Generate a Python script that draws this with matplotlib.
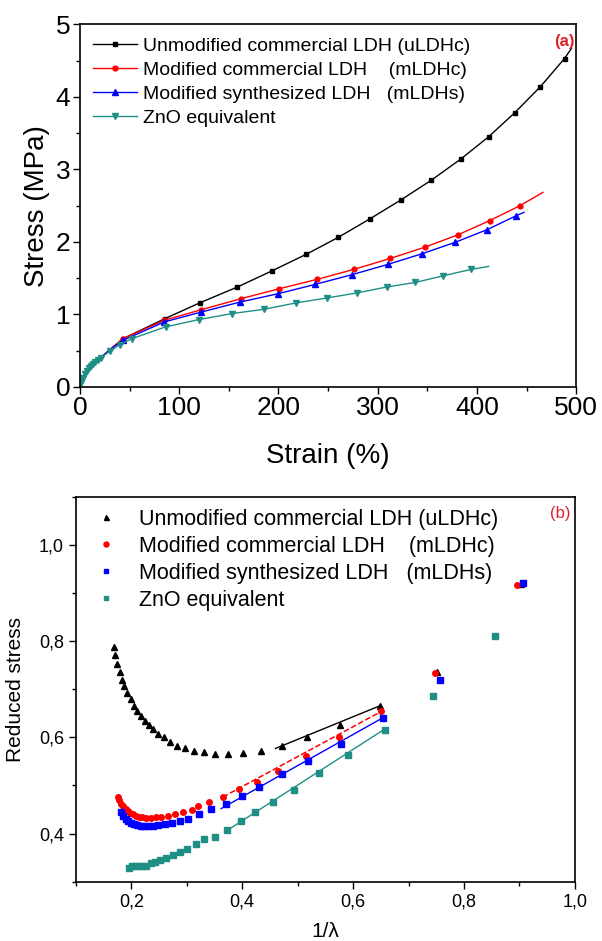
import numpy as np
import matplotlib.pyplot as plt
from matplotlib.ticker import MultipleLocator, FuncFormatter

plt.rcParams['font.family'] = ['Liberation Sans', 'DejaVu Sans']

# ---- panel (a): stress-strain ----
labels = ['Unmodified commercial LDH (uLDHc)',
          'Modified commercial LDH    (mLDHc)',
          'Modified synthesized LDH   (mLDHs)',
          'ZnO equivalent']

strain_u = [0, 1, 2, 4, 6, 8, 10, 13, 16, 20, 25, 30, 36, 43.5, 85.5, 121, 158.5, 193.5, 227.7, 260,
            292.5, 323.6, 354, 383.5, 411.8, 438, 463.9, 488.3, 495.3]
stress_u = [0, 0.05, 0.09, 0.14, 0.18, 0.22, 0.26, 0.30, 0.34, 0.39, 0.45, 0.51, 0.58, 0.665, 0.94, 1.16,
            1.376, 1.60, 1.826, 2.06, 2.32, 2.58, 2.85, 3.14, 3.45, 3.78, 4.14, 4.53, 4.67]

strain_mc = [0, 1, 2, 4, 6, 8, 10, 13, 16, 20, 25, 30, 36, 43.5, 84.7, 122.4, 162.4, 200.9, 238.9,
             275.8, 312.7, 347.7, 380.7, 413, 443.6, 466.6]
stress_mc = [0, 0.05, 0.09, 0.14, 0.18, 0.22, 0.26, 0.30, 0.34, 0.39, 0.45, 0.51, 0.58, 0.665, 0.917,
             1.064, 1.216, 1.353, 1.482, 1.619, 1.771, 1.927, 2.096, 2.294, 2.50, 2.683]

strain_ms = [0, 1, 2, 4, 6, 8, 10, 13, 16, 20, 25, 30, 36, 43.5, 84.7, 122.4, 161.6, 199.7, 237,
             273.9, 310, 344.6, 378.4, 410.6, 439.8, 447.6]
stress_ms = [0, 0.05, 0.09, 0.14, 0.18, 0.22, 0.26, 0.30, 0.34, 0.39, 0.45, 0.51, 0.57, 0.642, 0.894,
             1.032, 1.17, 1.284, 1.413, 1.546, 1.688, 1.835, 1.995, 2.17, 2.362, 2.408]

strain_zn = [0, 1, 2, 3, 5, 7, 9, 11, 13, 15, 18, 21, 30, 40, 52.4, 86.2, 119.7, 152.7, 185.3, 217.2,
             248.6, 278.9, 308.9, 338, 366.3, 393.9, 411.8]
stress_zn = [0, 0.05, 0.09, 0.12, 0.17, 0.22, 0.26, 0.29, 0.32, 0.34, 0.37, 0.40, 0.49, 0.58, 0.665,
             0.826, 0.927, 1.009, 1.069, 1.156, 1.225, 1.294, 1.376, 1.44, 1.532, 1.619, 1.661]

# ---- panel (b): reduced stress (Mooney-Rivlin) ----
inv_u = [0.168, 0.171, 0.175, 0.179, 0.183, 0.187, 0.193, 0.199, 0.204, 0.210, 0.217, 0.224, 0.232,
         0.240, 0.249, 0.259, 0.270, 0.282, 0.297, 0.313, 0.331, 0.351, 0.374, 0.401, 0.433, 0.472,
         0.517, 0.576, 0.649, 0.751, 0.902]
red_u = [0.787, 0.771, 0.752, 0.735, 0.720, 0.707, 0.693, 0.679, 0.666, 0.655, 0.644, 0.634, 0.625,
         0.617, 0.608, 0.600, 0.591, 0.583, 0.577, 0.572, 0.569, 0.566, 0.566, 0.568, 0.571, 0.582,
         0.600, 0.626, 0.665, 0.735, 0.918]

inv_mc = [0.176, 0.178, 0.182, 0.185, 0.190, 0.194, 0.198, 0.203, 0.208, 0.214, 0.220, 0.227, 0.235,
          0.244, 0.254, 0.266, 0.278, 0.293, 0.309, 0.321, 0.341, 0.365, 0.394, 0.426, 0.465, 0.515,
          0.575, 0.651, 0.748, 0.895]
red_mc = [0.476, 0.469, 0.462, 0.457, 0.451, 0.447, 0.443, 0.440, 0.437, 0.435, 0.434, 0.433, 0.433,
          0.434, 0.435, 0.437, 0.441, 0.444, 0.449, 0.457, 0.465, 0.476, 0.492, 0.508, 0.530, 0.562,
          0.601, 0.654, 0.734, 0.917]

inv_ms = [0.182, 0.185, 0.190, 0.194, 0.199, 0.205, 0.210, 0.217, 0.223, 0.231, 0.239, 0.249, 0.261,
          0.273, 0.287, 0.302, 0.322, 0.344, 0.370, 0.399, 0.430, 0.472, 0.518, 0.578, 0.654, 0.757, 0.907]
red_ms = [0.444, 0.436, 0.431, 0.426, 0.422, 0.419, 0.417, 0.415, 0.415, 0.415, 0.415, 0.417, 0.419,
          0.422, 0.426, 0.431, 0.440, 0.451, 0.462, 0.478, 0.497, 0.523, 0.551, 0.587, 0.641, 0.720, 0.920]

inv_zn = [0.196, 0.201, 0.207, 0.213, 0.220, 0.226, 0.235, 0.243, 0.252, 0.263, 0.275, 0.287, 0.301,
          0.316, 0.332, 0.351, 0.372, 0.397, 0.423, 0.456, 0.493, 0.538, 0.591, 0.658, 0.744, 0.856]
red_zn = [0.329, 0.332, 0.333, 0.333, 0.333, 0.333, 0.338, 0.341, 0.345, 0.350, 0.355, 0.362, 0.369,
          0.378, 0.388, 0.392, 0.407, 0.426, 0.445, 0.465, 0.490, 0.525, 0.564, 0.616, 0.686, 0.811]

# linear fits drawn over the large-deformation region
fit_u_x, fit_u_y = [0.46, 0.649], [0.577, 0.666]
fit_mc_x, fit_mc_y = [0.365, 0.651], [0.476, 0.654]
fit_ms_x, fit_ms_y = [0.362, 0.654], [0.452, 0.641]
fit_zn_x, fit_zn_y = [0.372, 0.658], [0.406, 0.618]

teal = '#1f8f86'

fig = plt.figure(figsize=(6.02, 9.41), dpi=100)

# ----- (a)
ax1 = fig.add_axes([0.133, 0.589, 0.824, 0.385])
first = lambda xs, start: [i for i in range(len(xs)) if xs[i] >= start]
ax1.plot(strain_u, stress_u, '-', color='black', lw=1, marker='s', ms=3.5,
         markevery=first(strain_u, 43)[:-1], label=labels[0])
ax1.plot(strain_mc, stress_mc, '-', color='red', lw=1, marker='o', ms=3.5,
         markevery=first(strain_mc, 43)[:-1], label=labels[1])
ax1.plot(strain_ms, stress_ms, '-', color='blue', lw=1, marker='^', ms=3.8,
         markevery=first(strain_ms, 43)[:-1], label=labels[2])
ax1.plot(strain_zn, stress_zn, '-', color=teal, lw=1, marker='v', ms=3.8,
         markevery=list(range(1, len(strain_zn) - 1)), label=labels[3])

ax1.set_xlim(0, 500)
ax1.set_ylim(0, 5)
ax1.xaxis.set_major_locator(MultipleLocator(100))
ax1.xaxis.set_minor_locator(MultipleLocator(50))
ax1.yaxis.set_major_locator(MultipleLocator(1))
ax1.yaxis.set_minor_locator(MultipleLocator(0.5))
ax1.tick_params(which='both', direction='out', labelsize=19, width=1)
ax1.tick_params(which='major', length=5, pad=2)
ax1.tick_params(which='minor', length=3)
ax1.set_xlabel('Strain (%)', fontsize=20, labelpad=16)
ax1.set_ylabel('Stress (MPa)', fontsize=20, labelpad=4)
for s in ax1.spines.values():
    s.set_linewidth(1.2)
ax1.legend(loc='upper left', frameon=False, fontsize=14, handlelength=2.3,
           handletextpad=0.3, labelspacing=0.33, borderpad=0.55, borderaxespad=0.1)
ax1.text(0.996, 0.975, '(a)', transform=ax1.transAxes, ha='right', va='top',
         color='#e0202a', fontsize=12, fontweight='bold')

# ----- (b)
ax2 = fig.add_axes([0.126, 0.063, 0.829, 0.409])
ax2.plot(inv_u, red_u, '^', color='black', ms=4, label=labels[0])
ax2.plot(inv_mc, red_mc, 'o', color='red', ms=4, label=labels[1])
ax2.plot(inv_ms, red_ms, 's', color='blue', ms=3.8, label=labels[2])
ax2.plot(inv_zn, red_zn, 's', color=teal, ms=3.8, label=labels[3])
ax2.plot(fit_u_x, fit_u_y, '-', color='black', lw=1)
ax2.plot(fit_mc_x, fit_mc_y, '--', color='red', lw=1.1)
ax2.plot(fit_ms_x, fit_ms_y, '-', color='blue', lw=1)
ax2.plot(fit_zn_x, fit_zn_y, '-', color=teal, lw=1)

ax2.set_xlim(0.1, 1.0)
ax2.set_ylim(0.3, 1.1)
ax2.xaxis.set_major_locator(MultipleLocator(0.2))
ax2.xaxis.set_minor_locator(MultipleLocator(0.1))
ax2.yaxis.set_major_locator(MultipleLocator(0.2))
ax2.yaxis.set_minor_locator(MultipleLocator(0.1))
comma = FuncFormatter(lambda v, p: f'{v:.1f}'.replace('.', ','))
ax2.xaxis.set_major_formatter(comma)
ax2.yaxis.set_major_formatter(comma)
ax2.tick_params(which='both', direction='out', labelsize=13, width=1)
ax2.tick_params(which='major', length=5)
ax2.tick_params(which='minor', length=3)
ax2.set_xlabel('1/λ', fontsize=15, labelpad=8)
ax2.set_ylabel('Reduced stress', fontsize=15, labelpad=10)
for s in ax2.spines.values():
    s.set_linewidth(1.2)
ax2.legend(loc='upper left', bbox_to_anchor=(0.016, 1.0), frameon=False, fontsize=15.5,
           handlelength=1.0, handletextpad=1.0, labelspacing=0.28, borderpad=0.4,
           borderaxespad=0.15, markerscale=0.9)
ax2.text(0.992, 0.975, '(b)', transform=ax2.transAxes, ha='right', va='top',
         color='#e0202a', fontsize=12)

fig.savefig('out.png', dpi=100)
